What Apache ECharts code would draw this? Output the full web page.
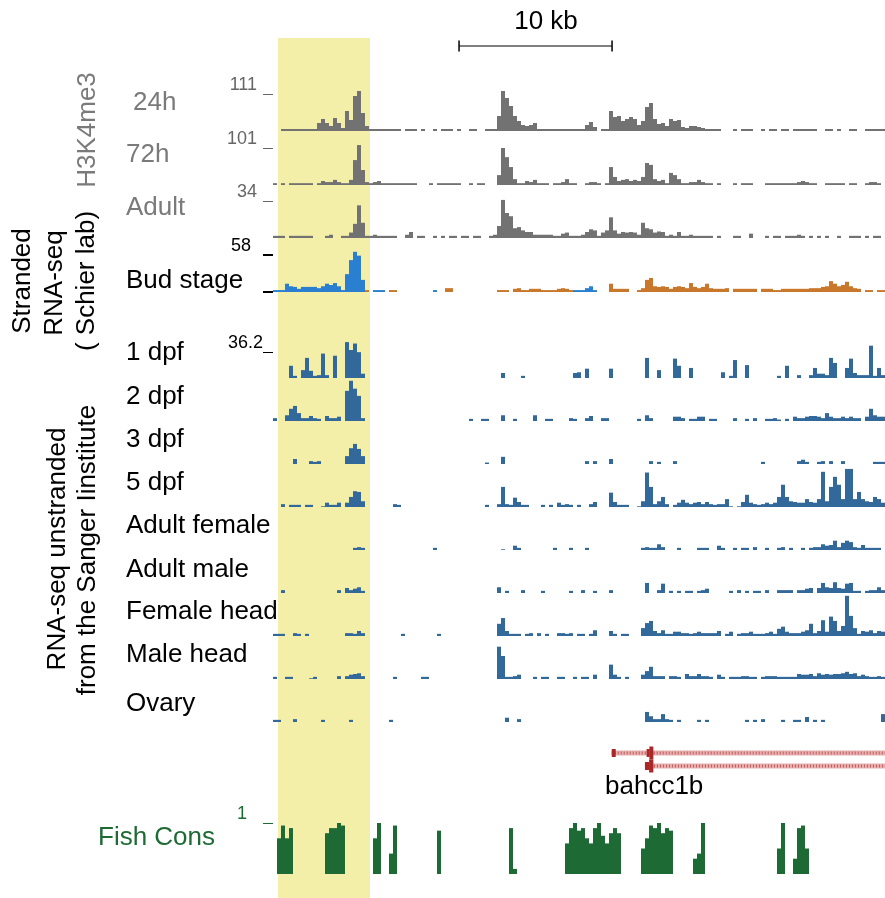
<!DOCTYPE html>
<html>
<head>
<meta charset="utf-8">
<script src="https://cdn.jsdelivr.net/npm/echarts@6/dist/echarts.min.js"></script>
<style>
    html, body { margin: 0; background: #fff; }
    #chart { width: 885px; height: 898px; }
</style>
</head>
<body>
<div id="chart"></div>
<script>
// view: 40 kb split in 153 bins (~0.26 kb each)
const VIEW_KB = 40;
const BIN_COUNT = 153;

// H3K4me3 coverage
const h3k24h = [
    0,0,6,6,6,6,6,6,6,6, 6,24,36,24,15,39,24,9,60,33, 105,120,54,15,6,6,6,6,6,6,
    6,6,0,6,6,6,0,6,0,0, 6,0,6,6,6,0,6,0,0,6, 6,0,0,6,6,6,45,120,99,75,
    45,30,18,15,18,24,6,6,6,6, 6,6,6,6,6,6,6,6,18,27, 12,0,6,6,60,42,45,30,36,42,
    36,18,30,72,84,36,21,24,15,36, 30,33,12,9,15,15,12,9,6,6, 6,6,0,0,0,6,0,6,6,6,
    0,0,6,0,6,6,0,6,6,0, 6,6,6,6,6,6,0,0,6,6, 0,6,0,0,6,6,0,0,6,6, 6,6,6
];
const h3k72h = [
    5,0,5,0,5,5,5,5,5,5, 0,5,11,8,8,14,8,5,5,14, 68,109,41,8,5,8,11,5,5,5,
    5,5,5,5,5,5,0,0,0,5, 0,5,5,5,5,5,5,0,0,5, 0,5,5,0,0,0,27,101,76,49,
    16,5,5,11,8,14,5,5,5,0, 5,5,8,16,5,5,0,0,5,8, 8,5,0,5,49,22,11,14,16,11,
    14,11,22,60,55,16,11,14,5,33, 27,16,5,5,8,8,14,8,5,5, 0,5,0,0,0,5,0,5,5,5,
    0,0,0,5,5,5,5,5,5,5, 5,8,11,8,5,5,0,0,5,5, 5,5,5,0,5,5,0,0,5,8, 8,5,0
];
const h3kAdult = [
    2,2,2,0,2,2,2,2,2,2, 0,0,0,2,3,0,0,2,2,5, 13,30,14,2,2,3,2,2,2,2,
    2,0,0,3,5.5,0,2,2,0,0, 2,0,2,0,2,2,0,2,2,0, 2,2,0,0,2,3,11,35,23,20,
    9,10,7,5.5,5.5,3,3,3,3,3, 2,2,4,5,2,2,2,3,5.5,8, 7,2,5,7,19,7,4,5.5,5,5.5,
    5,3,14,9,8,5,6,5.5,2,3, 2,5.5,2,2,3,2,2,2,2,2, 0,2,0,0,0,2,2,0,0,4,
    0,0,0,2,0,2,2,0,2,2, 2,3,2,0,2,0,2,0,2,0, 0,2,0,0,2,2,2,0,2,0, 2,2,0
];

// stranded RNA-seq, bud stage (plus / minus strand)
const budPlus = [
    3,3,3,13,9,8,5,8,8,8, 8,6,9,13,11,14,9,3,28,50, 63,57,19,0,0,3,3,3,0,0,
    0,0,0,0,0,0,0,0,0,0, 3,0,0,0,0,0,0,0,0,0, 0,0,0,0,0,0,0,0,0,0,
    0,0,0,0,0,0,0,0,0,0, 0,0,0,0,0,3,3,3,6,9, 3,0,0,0,0,0,0,0,0,0,
    0,0,0,0,0,0,0,0,0,0, 0,0,0,0,0,0,0,0,0,0, 0,0,0,0,0,0,0,0,0,0,
    0,0,0,0,0,0,0,0,0,0, 0,0,0,0,0,0,0,0,0,0, 0,0,0,0,0,0,0,0,0,0, 0,0,0
];
const budMinus = [
    0,0,0,0,0,0,0,0,0,0, 0,0,0,0,0,0,0,0,0,0, 0,0,0,3,0,0,0,0,0,3,
    3,0,0,0,0,0,0,0,0,0, 0,0,0,6,6,0,0,0,0,0, 0,0,0,0,0,0,3,3,3,0,
    5,6,3,3,5,5,5,3,3,3, 3,5,6,5,3,0,0,0,0,0, 0,0,0,0,13,5,5,5,5,0,
    0,3,6,19,22,9,8,9,8,5, 8,9,8,6,14,8,6,8,13,6, 5,5,5,6,0,5,5,5,5,5,
    5,0,5,5,5,3,3,5,5,5, 5,5,5,5,6,6,6,8,9,17, 13,9,11,16,9,6,5,0,3,3, 0,3,3
];

// unstranded RNA-seq (Sanger)
const dpf1 = [
    0,0,0,0,17,3,0,11,28,10, 3,4,34,4,0,31,0,0,50,39, 48,36,6,0,0,0,0,0,0,0,
    0,0,0,0,0,0,0,0,0,0, 0,0,0,0,0,0,0,0,0,0, 0,0,0,0,0,0,0,7,0,0,
    0,0,3,0,0,0,0,0,0,0, 0,0,0,0,0,7,8,0,13,0, 0,0,0,0,13,0,0,0,0,0,
    0,0,0,28,0,0,11,0,0,0, 27,17,0,0,14,0,0,0,0,0, 0,0,8,0,3,25,0,0,18,0,
    0,0,0,0,0,0,3,0,17,0, 0,4,0,0,4,14,6,6,4,28, 21,0,0,14,27,7,4,4,4,45, 3,14,4
];
const dpf2 = [
    4,0,0,8,17,21,11,4,4,7, 4,3,0,7,4,4,6,0,42,56, 45,35,4,0,0,0,0,0,0,0,
    0,0,0,0,0,0,0,0,0,0, 0,0,0,0,0,0,0,0,0,3, 0,0,3,3,0,0,0,8,0,0,
    3,0,0,0,0,8,0,0,3,3, 0,0,0,0,4,3,0,0,4,7, 0,0,4,4,0,0,0,0,0,0,
    0,3,0,8,4,0,0,0,0,0, 6,6,4,0,3,3,6,6,0,3, 3,0,0,0,0,4,0,0,3,0,
    4,0,0,3,3,4,2,0,3,0, 6,4,4,6,7,7,6,4,11,6, 4,4,6,4,6,4,4,0,6,17, 8,6,6
];
const dpf3 = [
    0,0,0,0,0,7,0,0,0,4, 3,4,0,0,0,0,0,0,11,22, 28,21,11,0,0,0,0,0,0,0,
    0,0,0,0,0,0,0,0,0,0, 0,0,0,0,0,0,0,0,0,0, 0,0,0,2,0,0,0,10,0,0,
    0,0,0,0,0,0,0,0,0,0, 0,0,0,0,0,0,0,0,4,0, 4,0,0,0,7,0,0,0,0,0,
    0,0,0,0,4,0,3,0,0,0, 4,0,0,0,0,0,0,0,0,0, 0,0,0,0,0,0,0,0,0,0,
    0,0,3,0,0,0,0,0,0,0, 0,4,6,3,0,0,3,4,0,4, 0,0,4,0,0,0,0,0,0,0, 3,3,3
];
const dpf5 = [
    0,0,4,0,3,3,3,0,3,3, 0,0,1,6,3,3,6,0,6,14, 22,21,8,0,0,0,0,0,0,0,
    4,3,0,0,0,0,0,0,0,0, 0,0,0,0,0,0,0,0,0,0, 0,0,0,3,0,0,4,28,4,3,
    13,7,3,3,0,0,0,3,0,3, 0,6,3,4,3,0,3,0,0,4, 7,0,0,0,20,7,3,3,3,0,
    0,1,8,48,28,4,8,14,4,0, 3,6,10,6,4,6,7,4,7,4, 3,4,4,11,1,0,1,7,17,6,
    4,3,4,6,4,6,14,31,14,8, 7,6,6,11,7,6,11,49,8,28, 42,31,11,53,53,11,21,11,8,7, 14,11,6
];
const adultFemale = [
    0,0,0,0,0,0,0,0,0,0, 0,0,0,0,0,0,0,0,0,0, 3,4,3,0,0,0,0,0,0,0,
    0,0,0,0,0,0,0,0,0,0, 3,0,0,0,0,0,0,0,0,0, 0,0,0,0,0,0,0,1,0,0,
    6,3,0,0,0,0,0,0,0,0, 3,0,0,0,3,0,0,0,3,0, 0,0,0,0,0,0,0,0,0,0,
    0,0,3,4,3,3,8,4,0,0, 0,3,0,0,0,0,3,3,3,0, 0,6,3,0,0,3,0,3,3,0,
    4,0,0,3,0,0,3,4,0,3, 0,0,3,0,3,4,4,8,6,7, 13,4,10,13,11,4,3,7,3,3, 3,3,0
];
const adultMale = [
    0,0,4,0,0,0,0,0,0,0, 0,0,0,0,0,0,4,0,7,4, 6,8,3,0,0,0,0,0,0,0,
    0,0,0,0,0,0,0,0,0,0, 0,0,0,0,0,0,0,0,0,0, 0,0,0,0,0,0,8,0,3,0,
    0,0,4,0,0,0,0,3,0,0, 0,0,0,0,3,0,0,4,0,0, 3,0,0,0,4,0,0,0,0,0,
    0,0,0,14,0,0,4,13,0,3, 0,3,0,3,3,0,3,4,6,0, 0,0,0,0,3,0,4,0,3,0,
    3,3,0,4,0,0,4,4,4,4, 0,4,4,6,7,0,7,14,8,7, 15,7,6,13,14,3,3,0,3,4, 4,8,4
];
const femaleHead = [
    3,3,3,0,0,4,3,0,3,0, 0,0,0,0,0,0,0,0,4,4, 3,7,4,0,0,0,0,0,0,0,
    0,0,3,0,0,0,0,0,0,0, 0,3,0,0,0,0,0,0,0,0, 0,0,0,0,0,0,17,25,7,3,
    3,3,0,3,4,0,4,0,3,0, 0,4,4,3,4,0,3,3,0,3, 8,0,0,0,7,3,0,3,3,0,
    0,0,11,18,21,7,4,8,3,3, 6,6,4,4,3,4,6,4,4,4, 4,7,0,3,6,0,3,4,4,6,
    3,3,3,4,6,3,10,13,6,4, 4,4,6,8,17,4,7,22,6,27, 21,7,14,56,28,11,3,7,6,8, 4,7,6
];
const maleHead = [
    3,0,0,3,3,0,0,0,0,1, 3,0,0,0,0,0,4,0,4,6, 7,8,4,0,0,0,0,0,0,0,
    3,0,0,0,0,0,0,3,3,0, 0,0,0,0,0,0,0,0,0,0, 0,0,0,0,0,0,45,32,3,3,
    4,6,0,0,0,3,0,3,3,0, 0,3,3,0,0,3,0,3,3,0, 6,0,0,0,20,6,3,0,3,0,
    0,0,6,11,17,4,4,4,0,4, 4,3,0,7,4,4,7,4,4,3, 0,6,3,0,3,3,3,4,4,3,
    3,0,3,4,4,4,3,3,3,3, 3,7,6,6,7,4,8,6,7,6, 7,7,8,10,7,8,4,6,4,3, 3,4,3
];
const ovary = [
    3,3,0,0,0,4,0,0,0,0, 0,0,3,0,0,0,0,0,0,3, 0,0,0,0,0,0,0,0,0,3,
    0,0,0,0,0,0,0,0,0,0, 0,0,0,0,0,0,0,0,0,0, 0,0,0,0,0,0,0,0,6,0,
    0,4,0,0,0,0,0,0,0,0, 0,0,0,0,0,0,0,0,0,0, 0,0,0,0,0,0,0,0,0,0,
    0,0,0,14,8,4,4,11,4,3, 0,3,0,0,0,0,3,0,3,0, 0,0,0,0,0,0,0,0,3,0,
    3,0,4,0,0,0,0,3,0,0, 3,3,0,7,0,3,0,3,0,0, 0,0,0,0,0,0,0,0,0,0, 0,0,11
];

// conservation
const fishCons = [
    0,0.7,0.95,0.7,0.9,0,0,0,0,0, 0,0,0,0.8,0.9,0.9,1,0.95,0,0, 0,0,0,0,0,0.7,1,0,0,0.4,
    0.95,0,0,0,0,0,0,0,0,0, 0,0.85,0,0,0,0,0,0,0,0, 0,0,0,0,0,0,0,0,0,0.9,
    0.1,0,0,0,0,0,0,0,0,0, 0,0,0,0.6,0.9,1,0.85,0.9,0.7,0.6, 0.9,1,0.75,0.6,0.8,0.9,0.8,0,0,0,
    0,0,0.5,0.7,0.95,0.9,1,0.8,0.9,0.85, 0,0,0,0,0,0.3,0.4,1,0,0, 0,0,0,0,0,0,0,0,0,0,
    0,0,0,0,0,0,0.5,1,0,0, 0.3,0.9,0.95,0.5,0,0,0,0,0,0, 0,0,0,0,0,0,0,0,0,0, 0,0,0
];

// gene model bahcc1b (kb): [start, end, transcript row]
const transcripts = ['bahcc1b-201', 'bahcc1b-202'];
const introns = [[22.14, 40, 0], [24.31, 40, 1]];
// [start, end, row, coding(1) or utr(0)]
const exons = [[22.14, 22.4, 0, 0], [24.42, 24.62, 0, 0], [24.6, 24.86, 0, 1],
               [24.31, 24.6, 1, 0], [24.58, 24.86, 1, 1]];

const scaleBarKb = [12.16, 22.16];
const highlightKb = [0.33, 6.34];

const FONT = '"Liberation Sans", Arial, sans-serif';
const GRAY = '#727272';
const RNA = '#33689a';
const GREEN = '#1e6a35';

const bins = h3k24h.map((_, i) => i);

const tracks = [
    {series: [{data: h3k24h, color: GRAY}], top: 94, height: 37, max: 111, label: 111, ticks: [111], labelColor: '#666', margin: 16},
    {series: [{data: h3k72h, color: GRAY}], top: 148, height: 37, max: 101, label: 101, ticks: [101], labelColor: '#666', margin: 16},
    {series: [{data: h3kAdult, color: GRAY}], top: 201, height: 37, max: 34, label: 34, ticks: [34], labelColor: '#666', margin: 16},
    {series: [{data: budPlus, color: '#2a7fd0'}, {data: budMinus, color: '#c9772a'}], top: 255, height: 37, max: 58,
        label: 58, ticks: [0, 58], labelColor: '#000', margin: 22, tickWidth: 2},
    {series: [{data: dpf1, color: RNA}], top: 338, height: 40, max: 55.7, label: 36.2, ticks: [36.2], labelColor: '#000', margin: 10},
    {series: [{data: dpf2, color: RNA}], top: 381, height: 40, max: 55.7},
    {series: [{data: dpf3, color: RNA}], top: 424, height: 40, max: 55.7},
    {series: [{data: dpf5, color: RNA}], top: 467, height: 40, max: 55.7},
    {series: [{data: adultFemale, color: RNA}], top: 510, height: 40, max: 55.7},
    {series: [{data: adultMale, color: RNA}], top: 553, height: 40, max: 55.7},
    {series: [{data: femaleHead, color: RNA}], top: 596, height: 40, max: 55.7},
    {series: [{data: maleHead, color: RNA}], top: 639, height: 40, max: 55.7},
    {series: [{data: ovary, color: RNA}], top: 682, height: 40, max: 55.7},
    {series: [{data: fishCons, color: GREEN}], top: 823, height: 51, max: 1, label: 1, ticks: [1], labelColor: GREEN, margin: 26}
];

const grids = [], xAxes = [], yAxes = [], series = [];

// 0: yellow highlight over whole height
grids.push({left: 273, width: 612, top: 38, height: 860});
xAxes.push({type: 'value', gridIndex: 0, min: 0, max: VIEW_KB, show: false});
yAxes.push({type: 'value', gridIndex: 0, min: 0, max: 1, show: false});
series.push({
    type: 'line', xAxisIndex: 0, yAxisIndex: 0, data: [], z: 0, silent: true,
    markArea: {silent: true, itemStyle: {color: '#f3efa9'},
        data: [[{xAxis: highlightKb[0]}, {xAxis: highlightKb[1]}]]}
});

// 1: scale bar
grids.push({left: 273, width: 612, top: 36, height: 20});
xAxes.push({type: 'value', gridIndex: 1, min: 0, max: VIEW_KB, show: false});
yAxes.push({type: 'value', gridIndex: 1, min: -1, max: 1, show: false});
series.push({
    type: 'line', xAxisIndex: 1, yAxisIndex: 1, silent: true,
    data: scaleBarKb.map(k => [k, 0]),
    symbol: 'rect', symbolSize: [1.5, 11], showSymbol: true,
    itemStyle: {color: '#000'}, lineStyle: {color: '#000', width: 1.2}
});

// coverage tracks
tracks.forEach(t => {
    const gi = grids.length;
    grids.push({left: 273, width: 612, top: t.top, height: t.height});
    xAxes.push({type: 'category', gridIndex: gi, data: bins, show: false, boundaryGap: true});
    yAxes.push({
        type: 'value', gridIndex: gi, min: 0, max: t.max,
        axisLine: {show: false}, splitLine: {show: false},
        axisTick: t.ticks ? {show: true, customValues: t.ticks, length: 10,
            lineStyle: {color: t.labelColor, width: t.tickWidth || 1}} : {show: false},
        axisLabel: t.label != null ? {show: true, customValues: [t.label], margin: t.margin,
            color: t.labelColor, fontSize: 18, fontFamily: FONT, verticalAlign: 'bottom'} : {show: false}
    });
    t.series.forEach(s => {
        series.push({
            type: 'bar', xAxisIndex: gi, yAxisIndex: gi, data: s.data,
            barCategoryGap: '0%', barGap: '-100%', clip: false, silent: true, z: 3,
            itemStyle: {color: s.color}
        });
    });
});

// gene model
const gg = grids.length;
grids.push({left: 273, width: 612, top: 746.5, height: 26});
xAxes.push({type: 'value', gridIndex: gg, min: 0, max: VIEW_KB, show: false});
yAxes.push({type: 'category', gridIndex: gg, data: transcripts, inverse: true, show: false});
series.push({
    type: 'custom', xAxisIndex: gg, yAxisIndex: gg, data: introns, z: 3, silent: true,
    encode: {x: [0, 1], y: 2},
    renderItem(params, api) {
        const s = api.coord([api.value(0), api.value(2)]);
        const e = api.coord([api.value(1), api.value(2)]);
        return {type: 'group', children: [
            {type: 'rect', shape: {x: s[0], y: s[1] - 2.5, width: e[0] - s[0], height: 5},
                style: {fill: '#e6b0b0'}},
            {type: 'line', shape: {x1: s[0], y1: s[1], x2: e[0], y2: e[1]},
                style: {stroke: '#c45c5c', lineWidth: 3, lineDash: [1, 2]}}
        ]};
    }
});
series.push({
    type: 'custom', xAxisIndex: gg, yAxisIndex: gg, data: exons, z: 4, silent: true,
    encode: {x: [0, 1], y: 2},
    renderItem(params, api) {
        const s = api.coord([api.value(0), api.value(2)]);
        const e = api.coord([api.value(1), api.value(2)]);
        const h = api.value(3) ? 13 : 8;
        return {type: 'rect', shape: {x: s[0], y: s[1] - h / 2, width: e[0] - s[0], height: h},
            style: {fill: '#a8282a'}};
    }
});

// text labels
function txt(text, x, y, opts) {
    return Object.assign({type: 'text', x, y, silent: true,
        style: Object.assign({text, font: '26px ' + FONT, fill: '#000', align: 'left', verticalAlign: 'middle'},
            opts && opts.style)}, opts && opts.el);
}
const vert = {el: {rotation: Math.PI / 2}, style: {align: 'center'}};
const graphics = [
    txt('10 kb', 546, 22, {style: {align: 'center'}}),
    txt('H3K4me3', 88, 130, {el: {rotation: Math.PI / 2}, style: {align: 'center', fill: '#7a7a7a'}}),
    txt('24h', 133, 103, {style: {fill: '#7a7a7a'}}),
    txt('72h', 126, 155, {style: {fill: '#7a7a7a'}}),
    txt('Adult', 126, 208, {style: {fill: '#7a7a7a'}}),
    txt('Stranded', 23, 281, vert),
    txt('RNA-seq', 55, 283, vert),
    txt('( Schier lab)', 87, 281, vert),
    txt('Bud stage', 126, 281),
    txt('RNA-seq unstranded', 58, 549, vert),
    txt('from the Sanger Iinstitute', 88, 550, vert),
    txt('1 dpf', 126, 353),
    txt('2 dpf', 126, 397),
    txt('3 dpf', 126, 440),
    txt('5 dpf', 126, 483),
    txt('Adult female', 126, 526),
    txt('Adult male', 126, 570),
    txt('Female head', 126, 612),
    txt('Male head', 126, 655),
    txt('Ovary', 126, 704),
    txt('bahcc1b', 605, 787),
    txt('Fish Cons', 98, 838, {style: {fill: GREEN}})
];

const chart = echarts.init(document.getElementById('chart'));
chart.setOption({
    animation: false,
    backgroundColor: '#fff',
    grid: grids,
    xAxis: xAxes,
    yAxis: yAxes,
    series: series,
    graphic: graphics
});
</script>
</body>
</html>
